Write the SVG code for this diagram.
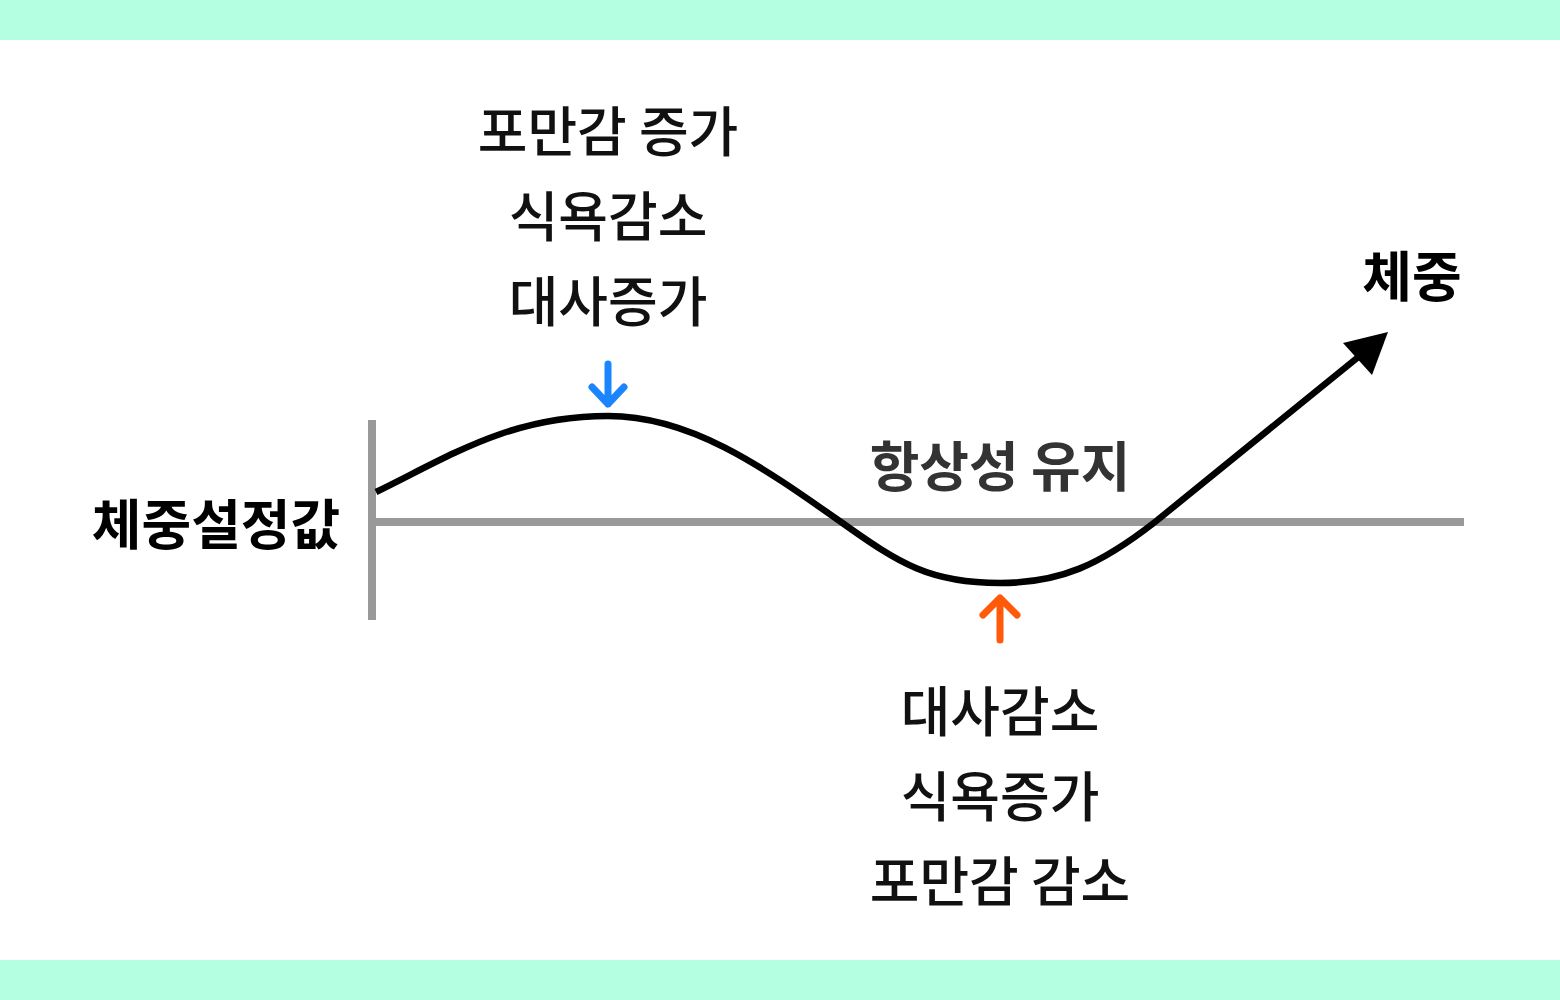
<svg xmlns="http://www.w3.org/2000/svg" width="1560" height="1000" viewBox="0 0 1560 1000">
<style>
.t{font-family:"Noto Sans CJK KR","Noto Sans",sans-serif;font-size:54px;text-anchor:middle;fill:#111;font-weight:500}
.b{font-weight:700;fill:#000}
.g{fill:#333;font-weight:700}
.axis{stroke:#999;stroke-width:8;fill:none}
</style>
<rect x="0" y="0" width="1560" height="1000" fill="#fff"/>
<rect x="0" y="0" width="1560" height="40" fill="#b4ffe2"/>
<rect x="0" y="960" width="1560" height="40" fill="#b4ffe2"/>
<g id="axes">
<line class="axis" x1="372" y1="420" x2="372" y2="620"/>
<line class="axis" x1="376" y1="522" x2="1464" y2="522"/>
</g>
<g id="connectors">
<path d="M376,492 C450,456 510,416 608,416 C690,416 760,465 841,522 C900,564 930,583 1000,583 C1060,583 1100,565 1155,522 L1362,354" fill="none" stroke="#000" stroke-width="6.5" stroke-linejoin="round"/>
<polygon points="1388,332 1343,343 1372,375" fill="#000"/>
<g fill="none" stroke="#1a85ff" stroke-width="7" stroke-linecap="round" stroke-linejoin="round">
<path d="M608,364 V404 M592,387 L608,404 L624,387"/>
</g>
<g fill="none" stroke="#ff5a0a" stroke-width="7" stroke-linecap="round" stroke-linejoin="round">
<path d="M1000,640 V598 M983,615 L1000,598 L1017,615"/>
</g>
</g>
<g id="top-labels">
<text class="t" x="608" y="152">포만감 증가</text>
<text class="t" x="608" y="237">식욕감소</text>
<text class="t" x="608" y="322">대사증가</text>
</g>
<g id="bottom-labels">
<text class="t" x="1000" y="732">대사감소</text>
<text class="t" x="1000" y="817">식욕증가</text>
<text class="t" x="1000" y="902">포만감 감소</text>
</g>
<g id="setpoint"><text class="t b" x="216" y="545">체중설정값</text></g>
<g id="weight"><text class="t b" x="1412" y="297">체중</text></g>
<g id="homeostasis"><text class="t g" x="1000" y="487">항상성 유지</text></g>
</svg>
